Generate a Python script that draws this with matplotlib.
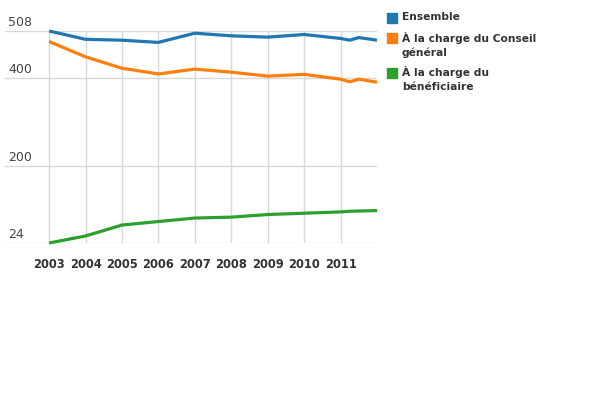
import matplotlib
matplotlib.use('Agg')
import matplotlib.pyplot as plt
from matplotlib.patches import Rectangle

years = [2003, 2004, 2005, 2006, 2007, 2008, 2009, 2010, 2011, 2011.25, 2011.5, 2012]
ensemble = [508, 489, 487, 482, 503, 497, 494, 500, 491, 487, 493, 487]
conseil = [484, 449, 423, 410, 421, 414, 405, 409, 398, 392, 398, 391]
beneficiaire = [24, 40, 65, 73, 81, 83, 89, 92, 95, 96.5, 97, 98]
series_names = ['Ensemble', 'À la charge du Conseil\ngénéral', 'À la charge du\nbénéficiaire']
colors = ['#1f77b4', '#ff7f0e', '#2ca02c']
xtick_years = [2003, 2004, 2005, 2006, 2007, 2008, 2009, 2010, 2011]
ytick_values = [24, 200, 400, 508]

plt.rcParams['font.family'] = ['DejaVu Sans']
fig = plt.figure(figsize=(6, 4), dpi=100)
ax = fig.add_axes([5 / 600, 1 - 243 / 400, 372 / 600, 212 / 400])

for vals, c in zip([ensemble, conseil, beneficiaire], colors):
    ax.plot(years, vals, color=c, lw=2.3, clip_on=False, solid_capstyle='butt', zorder=3)

ax.set_xlim(2001.79, 2012)
ax.set_ylim(24, 508)
for s in ax.spines.values():
    s.set_visible(False)

ax.set_yticks(ytick_values)
ax.tick_params(axis='y', length=0, labelleft=False)
ax.yaxis.grid(True, color='#d8d8d8', lw=1)
for v in ytick_values:
    ax.annotate(str(v), xy=(0, v), xycoords=('axes fraction', 'data'),
                xytext=(2.2, 1.6), textcoords='offset points',
                ha='left', va='bottom', fontsize=9, color='#444444')

ax.set_xticks(xtick_years)
ax.set_xticklabels([str(y) for y in xtick_years])
ax.tick_params(axis='x', length=0, pad=11, labelsize=8.3)
for lab in ax.get_xticklabels():
    lab.set_fontweight('bold')
    lab.set_color('#333333')
ax.xaxis.grid(True, color='#d8d8d8', lw=1)
ax.set_axisbelow(True)

# legend
first_line_y = [18, 38, 73]
for name, c, yc in zip(series_names, colors, first_line_y):
    fig.patches.append(Rectangle((387 / 600, 1 - (yc + 5) / 400), 10 / 600, 10 / 400,
                                 transform=fig.transFigure, color=c))
    fig.text(402 / 600, 1 - (yc - 6.5) / 400, name, ha='left', va='top', fontsize=7.7,
             fontweight='bold', color='#333333', linespacing=1.42)

fig.savefig('out.png', dpi=100)
